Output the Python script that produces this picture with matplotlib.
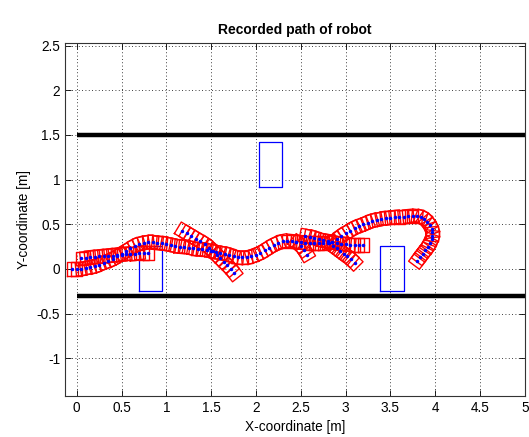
import numpy as np
import matplotlib
matplotlib.use("Agg")
import matplotlib.pyplot as plt

# recorded robot poses (centres), in metres
path_main_x = [-0.05, 0.0, 0.05, 0.1, 0.15, 0.2, 0.25, 0.3, 0.35, 0.4, 0.45, 0.5, 0.55, 0.6, 0.65,
               0.7, 0.75, 0.8, 0.85, 0.9, 0.95, 1.0, 1.05, 1.1, 1.15, 1.2, 1.25, 1.3, 1.35, 1.4,
               1.45, 1.5, 1.55, 1.6, 1.65, 1.7, 1.75, 1.8, 1.85, 1.9, 1.95, 2.0, 2.05, 2.1, 2.15,
               2.2, 2.25, 2.3, 2.35, 2.4, 2.45, 2.5, 2.55, 2.6, 2.65, 2.7, 2.75, 2.8, 2.85,
               2.9, 2.95, 3.0, 3.05, 3.1, 3.15, 3.2, 3.25, 3.3, 3.35, 3.4, 3.45, 3.5, 3.55, 3.6,
               3.65, 3.7, 3.75, 3.8, 3.84, 3.88, 3.91, 3.94, 3.96, 3.97, 3.97, 3.96, 3.94, 3.92,
               3.89, 3.86, 3.83, 3.8]
path_main_y = [0.0, 0.0, 0.0, 0.01, 0.02, 0.03, 0.05, 0.07, 0.09, 0.11, 0.14, 0.17, 0.2, 0.23, 0.26,
               0.28, 0.29, 0.3, 0.3, 0.29, 0.29, 0.28, 0.27, 0.26, 0.25, 0.25, 0.24, 0.23, 0.22, 0.22,
               0.21, 0.2, 0.19, 0.18, 0.17, 0.16, 0.14, 0.13, 0.13, 0.13, 0.14, 0.16, 0.18, 0.21, 0.24,
               0.27, 0.29, 0.31, 0.31, 0.31, 0.3, 0.3, 0.29, 0.29, 0.29, 0.29, 0.29, 0.29, 0.3,
               0.33, 0.37, 0.40, 0.43, 0.46, 0.48, 0.50, 0.52, 0.54, 0.55, 0.56, 0.57, 0.57, 0.58, 0.58,
               0.58, 0.59, 0.59, 0.59, 0.58, 0.56, 0.53, 0.49, 0.45, 0.41, 0.37, 0.33, 0.29, 0.25,
               0.21, 0.17, 0.13, 0.09]

path_start_x = [0.05, 0.1, 0.15, 0.2, 0.25, 0.3, 0.35, 0.4, 0.45, 0.5, 0.55, 0.6, 0.65, 0.7, 0.75, 0.8]
path_start_y = [0.12, 0.12, 0.13, 0.13, 0.14, 0.14, 0.15, 0.15, 0.16, 0.16, 0.17, 0.17, 0.17, 0.18, 0.18, 0.18]

path_diag_x = [1.18, 1.23, 1.28, 1.33, 1.38, 1.43, 1.48, 1.52, 1.56, 1.6, 1.64, 1.68, 1.72, 1.76]
path_diag_y = [0.43, 0.40, 0.37, 0.34, 0.31, 0.28, 0.24, 0.2, 0.16, 0.12, 0.08, 0.04, 0.0, -0.05]

path_mid_x = [2.55, 2.6, 2.65, 2.7, 2.75, 2.8, 2.85, 2.9, 2.95, 3.0, 3.05, 3.1, 3.15, 3.2]
path_mid_y = [0.37, 0.36, 0.35, 0.33, 0.32, 0.31, 0.3, 0.29, 0.28, 0.28, 0.27, 0.27, 0.27, 0.27]

path_down_x = [2.82, 2.86, 2.9, 2.94, 2.98, 3.02, 3.06, 3.1]
path_down_y = [0.29, 0.26, 0.23, 0.2, 0.17, 0.14, 0.11, 0.07]

path_stub_x = [2.45, 2.5, 2.54, 2.57]
path_stub_y = [0.3, 0.26, 0.21, 0.16]

# walls and obstacles
wall_y = [1.5, -0.3]
obst_x = [0.69, 2.03, 3.39]
obst_y = [-0.245, 0.92, -0.245]
obst_w = 0.26
obst_h = 0.5

robot_len = 0.12
robot_wid = 0.15

plt.rcParams['font.family'] = ['Liberation Sans', 'DejaVu Sans']
plt.rcParams['font.size'] = 9.8

fig = plt.figure(figsize=(5.29, 4.37), dpi=100)
ax = fig.add_axes([0.123, 0.094, 0.869, 0.808])


def draw_robot(ax, xs, ys):
    xs = np.array(xs)
    ys = np.array(ys)
    th = np.arctan2(np.gradient(ys), np.gradient(xs))
    local = np.array([[-1, -1], [1, -1], [1, 1], [-1, 1], [-1, -1]]) * [robot_len / 2, robot_wid / 2]
    for x, y, t in zip(xs, ys, th):
        c, s = np.cos(t), np.sin(t)
        px = x + local[:, 0] * c - local[:, 1] * s
        py = y + local[:, 0] * s + local[:, 1] * c
        ax.plot(px, py, color='red', lw=1.0)
    ax.plot(xs, ys, 'b.', ms=3, zorder=5)


for w in wall_y:
    ax.plot([0, 5], [w, w], color='black', lw=3.2, solid_capstyle='butt')

for ox, oy in zip(obst_x, obst_y):
    ax.plot([ox, ox + obst_w, ox + obst_w, ox, ox],
            [oy, oy, oy + obst_h, oy + obst_h, oy], color='blue', lw=0.9)

draw_robot(ax, path_main_x, path_main_y)
draw_robot(ax, path_start_x, path_start_y)
draw_robot(ax, path_diag_x, path_diag_y)
draw_robot(ax, path_mid_x, path_mid_y)
draw_robot(ax, path_down_x, path_down_y)
draw_robot(ax, path_stub_x, path_stub_y)

ax.set_xlim(-0.13, 5.0)
ax.set_ylim(-1.42, 2.53)
ax.set_xticks(np.arange(0, 5.01, 0.5))
ax.set_xticklabels(['0', '0.5', '1', '1.5', '2', '2.5', '3', '3.5', '4', '4.5', '5'])
ax.set_yticks(np.arange(-1, 2.51, 0.5))
ax.set_yticklabels(['-1', '-0.5', '0', '0.5', '1', '1.5', '2', '2.5'])
ax.grid(True, linestyle=(0, (1, 3)), color='black', lw=0.6)
ax.tick_params(direction='in', top=True, right=True, length=4, width=0.6)
for sp in ax.spines.values():
    sp.set_linewidth(0.8)
    sp.set_color('#333333')

ax.set_title('Recorded path of robot', fontweight='bold', fontsize=10)
ax.set_xlabel('X-coordinate [m]')
ax.set_ylabel('Y-coordinate [m]')

fig.savefig('out.png', dpi=100)
